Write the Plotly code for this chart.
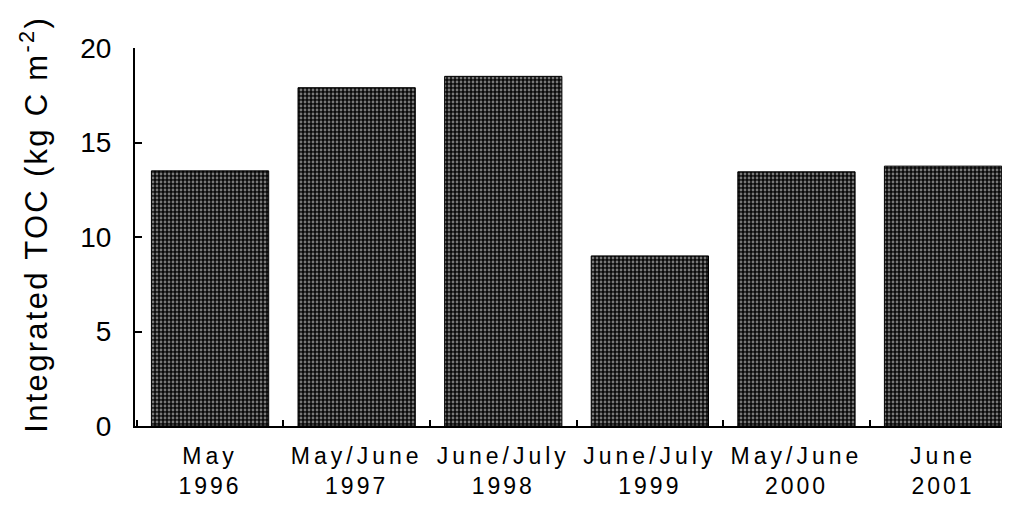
import plotly.graph_objects as go

# sampling periods and integrated TOC values
months = ["May", "May/June", "June/July", "June/July", "May/June", "June"]
years = ["1996", "1997", "1998", "1999", "2000", "2001"]
toc = [13.5, 17.9, 18.5, 9.0, 13.45, 13.75]

y_ticks = [0, 5, 10, 15, 20]

cats = [m + " " + y for m, y in zip(months, years)]
labels = ['<span style="letter-spacing:4px">%s</span><br><span style="letter-spacing:3px">%s</span>' % (m, y)
          for m, y in zip(months, years)]

fig = go.Figure()

fig.add_trace(go.Bar(
    x=cats,
    y=toc,
    width=0.8,
    marker=dict(
        color="#111111",
        line=dict(color="black", width=1),
        pattern=dict(shape=".", fgcolor="#e6e6e6", bgcolor="#0a0a0a", size=4, solidity=0.38),
    ),
    showlegend=False,
))

# the page body adds an 8px offset, so margins are shifted to compensate
fig.update_layout(
    width=1010,
    height=505,
    margin=dict(l=127, r=10, t=40, b=87),
    paper_bgcolor="white",
    plot_bgcolor="white",
    font=dict(family="Liberation Sans, Arial, sans-serif", color="black"),
)

fig.update_xaxes(
    type="category",
    automargin=False,
    range=[-0.512, 5.443],
    tickmode="array",
    tickvals=cats,
    ticktext=labels,
    tickangle=0,
    tickson="boundaries",
    ticks="inside",
    ticklen=6,
    tickwidth=1.5,
    tickcolor="black",
    tickfont=dict(size=23),
    ticklabelstandoff=8,
    showline=True,
    linecolor="black",
    linewidth=2,
    showgrid=False,
    zeroline=False,
)

fig.update_yaxes(
    automargin=False,
    range=[0, 20],
    tickmode="array",
    tickvals=y_ticks,
    ticks="inside",
    ticklen=7,
    tickwidth=1.5,
    tickcolor="black",
    tickfont=dict(size=28),
    ticklabelstandoff=16,
    showline=True,
    linecolor="black",
    linewidth=2,
    showgrid=False,
    zeroline=False,
)

# y title as an annotation so it can sit slightly above centre, as in the original
fig.add_annotation(
    text='<span style="letter-spacing:2.3px">Integrated TOC (kg C m<sup>-2</sup>)</span>',
    xref="paper", yref="paper",
    x=-0.115, y=0.534,
    xanchor="center", yanchor="middle",
    textangle=-90,
    showarrow=False,
    font=dict(size=31),
)

fig.write_html("out.html")
